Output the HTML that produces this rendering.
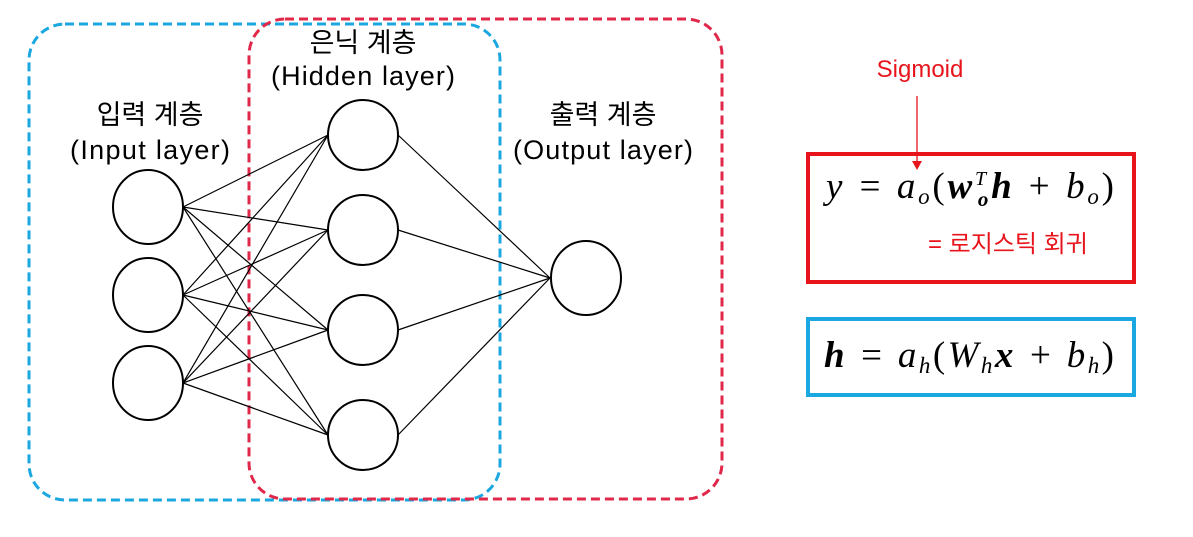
<!DOCTYPE html>
<html><head><meta charset="utf-8"><style>
body{margin:0;background:#fff;width:1193px;height:537px;overflow:hidden;position:relative}
svg{position:absolute;left:0;top:0}
.k{font-family:"Liberation Sans","Noto Sans CJK KR",sans-serif;font-size:27px;fill:#000}
.m{font-family:"Liberation Serif","DejaVu Serif",serif;font-size:37px;font-style:italic}
</style></head><body>
<svg width="1193" height="537" viewBox="0 0 1193 537">
<rect x="29" y="24" width="471" height="476" rx="36" fill="none" stroke="#1ba7df" stroke-width="3" stroke-dasharray="9,5"/>
<rect x="249" y="19" width="473" height="480" rx="36" fill="none" stroke="#e0284a" stroke-width="3" stroke-dasharray="9,5"/>
<g stroke="#000" stroke-width="1.2">
<line x1="183" y1="207" x2="328" y2="135"/><line x1="183" y1="207" x2="328" y2="230"/><line x1="183" y1="207" x2="328" y2="330"/><line x1="183" y1="207" x2="328" y2="435"/>
<line x1="183" y1="295" x2="328" y2="135"/><line x1="183" y1="295" x2="328" y2="230"/><line x1="183" y1="295" x2="328" y2="330"/><line x1="183" y1="295" x2="328" y2="435"/>
<line x1="183" y1="383" x2="328" y2="135"/><line x1="183" y1="383" x2="328" y2="230"/><line x1="183" y1="383" x2="328" y2="330"/><line x1="183" y1="383" x2="328" y2="435"/>
<line x1="398" y1="135" x2="550" y2="278"/><line x1="398" y1="230" x2="550" y2="278"/><line x1="398" y1="330" x2="550" y2="278"/><line x1="398" y1="435" x2="550" y2="278"/>
</g>
<g fill="#fff" stroke="#000" stroke-width="2">
<ellipse cx="148" cy="207" rx="35" ry="37"/><ellipse cx="148" cy="295" rx="35" ry="37"/><ellipse cx="148" cy="383" rx="35" ry="37"/>
<ellipse cx="363" cy="135" rx="35" ry="35"/><ellipse cx="363" cy="230" rx="35" ry="35"/><ellipse cx="363" cy="330" rx="35" ry="35"/><ellipse cx="363" cy="435" rx="35" ry="35"/>
<ellipse cx="586" cy="278" rx="35" ry="37"/>
</g>
<g class="k" text-anchor="middle">
<text x="363" y="52">은닉 계층</text><text x="363" y="85" textLength="184">(Hidden layer)</text>
<text x="150" y="124">입력 계층</text><text x="150" y="159" textLength="160">(Input layer)</text>
<text x="603" y="124">출력 계층</text><text x="603" y="159" textLength="180">(Output layer)</text>
</g>
<text x="920" y="77" text-anchor="middle" font-family="Liberation Sans,sans-serif" font-size="24" fill="#e8141c">Sigmoid</text>
<line x1="917" y1="96" x2="917" y2="163" stroke="#e8141c" stroke-width="1.3"/>
<polygon points="912,161 922,161 917,170" fill="#e8141c"/>
<rect x="808" y="154" width="326" height="128" fill="none" stroke="#e8141c" stroke-width="4"/>
<rect x="808" y="319" width="326" height="76" fill="none" stroke="#1ba7df" stroke-width="4"/>
<text class="m" x="826" y="198" textLength="288" lengthAdjust="spacing">y = a<tspan font-size="23" dy="6">o</tspan><tspan dy="-6" font-style="normal">(</tspan><tspan font-weight="bold">w</tspan><tspan font-size="20" dy="-13">T</tspan><tspan font-size="21" font-weight="bold" dx="-11" dy="21">o</tspan><tspan font-weight="bold" dy="-8">h</tspan> + b<tspan font-size="23" dy="6">o</tspan><tspan dy="-6" font-style="normal">)</tspan></text>
<text x="928" y="252" font-family="Liberation Sans,'Noto Sans CJK KR',sans-serif" font-size="24" fill="#e8141c">= 로지스틱 회귀</text>
<text class="m" x="824" y="367" textLength="290" lengthAdjust="spacing"><tspan font-weight="bold">h</tspan> = a<tspan font-size="23" dy="6">h</tspan><tspan dy="-6" font-style="normal">(</tspan>W<tspan font-size="23" dy="6">h</tspan><tspan font-weight="bold" dy="-6">x</tspan> + b<tspan font-size="23" dy="6">h</tspan><tspan dy="-6" font-style="normal">)</tspan></text>
</svg>
</body></html>
